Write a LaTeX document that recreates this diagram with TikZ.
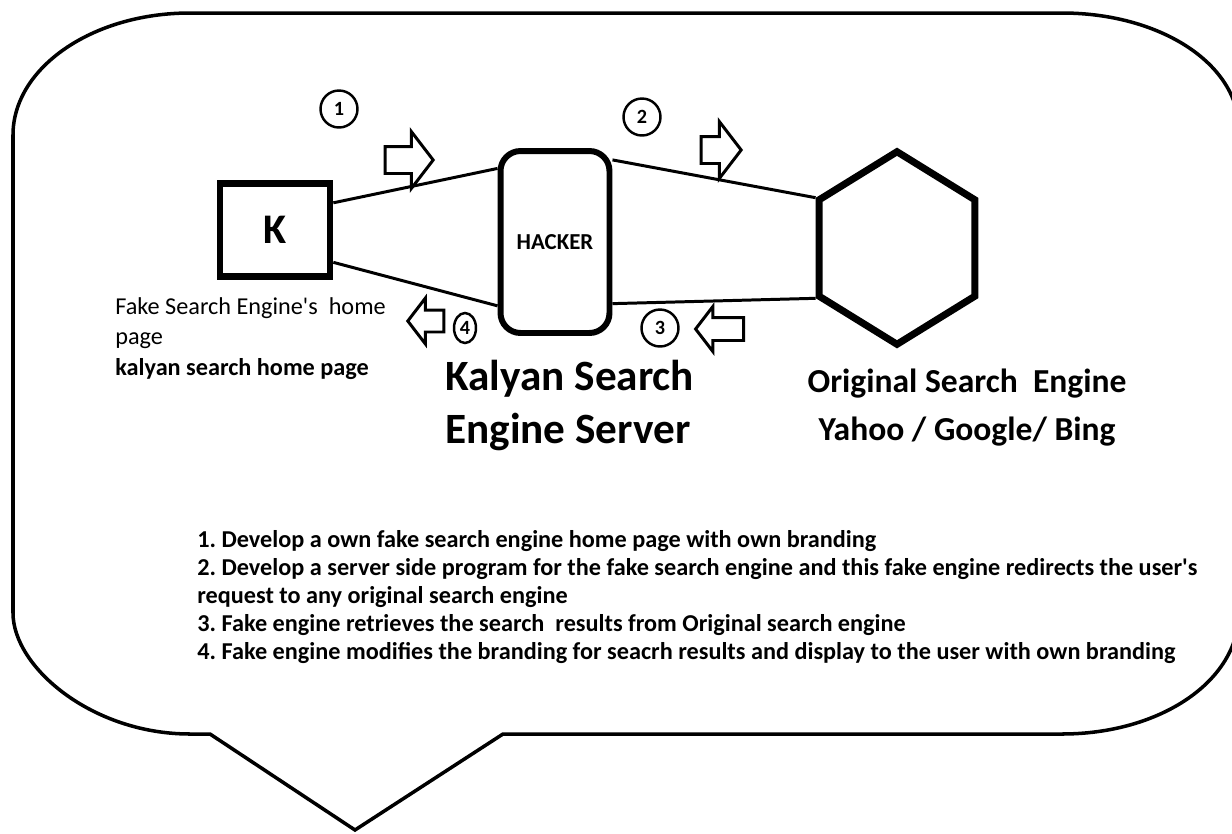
\documentclass[tikz,border=0pt]{standalone}
\usepackage{fontspec}
\setmainfont{Carlito}
\usetikzlibrary{shapes.geometric, shapes.arrows, positioning}
\frenchspacing

\begin{document}
\begin{tikzpicture}[
    x=0.02cm, y=-0.02cm,
    kbox/.style={rectangle, draw, line width=3.8pt, minimum width=2.2cm, minimum height=1.86cm,
                 font=\fontsize{24}{28}\selectfont\bfseries},
    server/.style={rectangle, rounded corners=0.4cm, draw, line width=3.4pt,
                   minimum width=2.18cm, minimum height=3.64cm, font=\fontsize{13}{15}\selectfont\bfseries},
    engine/.style={regular polygon, regular polygon sides=6, shape border rotate=30,
                   draw, line width=4pt, minimum size=3.6cm, yscale=1.07},
    link/.style={line width=1.7pt},
    num/.style={circle, draw, line width=1.4pt, minimum size=0.74cm, inner sep=0pt,
                font=\fontsize{11.5}{13}\selectfont\bfseries},
    fwd/.style={single arrow, draw, fill=white, line width=1.7pt, minimum height=0.96cm, inner sep=0.24cm,
                single arrow head extend=0.3cm, single arrow tip angle=105},
    back/.style={fwd, shape border rotate=180},
    note/.style={inner sep=0pt, align=left},
]
    \useasboundingbox (0,0) rectangle (1232,833);
    \draw[line width=2pt] (210,734) -- (190,734) .. controls (92,734) and (13,667) .. (13,613)
        -- (13,135) .. controls (13,68) and (92,13) .. (190,13)
        -- (1062,13) .. controls (1159,13) and (1239,63) .. (1239,130)
        -- (1239,612) .. controls (1239,682) and (1159,734) .. (1062,734)
        -- (503,734) -- (355,830) -- cycle;

    \node[kbox] (k) at (275,230) {K};
    \node[server] (hack) at (555,242) {HACKER};
    \node[engine] (eng) at (897,248) {};

    \draw[link] (k.25) -- (hack.128);
    \draw[link] (k.-29) -- (hack.228);
    \draw[link] (hack.55) -- (eng.150);
    \draw[link] (hack.-47) -- (eng.210);

    \node[num] (n1) at (339,109) {1};
    \node[num] (n2) at (642,117) {2};
    \node[num] (n3) at (660,328) {3};
    \node[num, ellipse, minimum width=0.44cm, minimum height=0.6cm] (n4) at (465,328) {4};

    \node[fwd] (a1) at (404,160) {};
    \node[fwd, minimum height=0.8cm] (a2) at (716,150) {};
    \node[back, inner sep=0.2cm, single arrow head extend=0.22cm] (a3) at (724,329) {};
    \node[back, minimum height=0.72cm, inner sep=0.19cm, single arrow head extend=0.24cm] (a4) at (430,321) {};

    \node[note, anchor=north west, font=\fontsize{13.8}{17}\selectfont] (fake) at (115,297)
        {Fake Search Engine\textquotesingle s~~home\\page\\[1pt]\textbf{kalyan search home page}};
    \node[note, anchor=north west, font=\fontsize{24.6}{30}\selectfont\bfseries] (srv) at (445,360)
        {Kalyan Search\\Engine Server};
    \node[note, align=center, anchor=north, font=\fontsize{19.1}{27}\selectfont\bfseries] (orig) at (967,369)
        {Original Search~~Engine\\Yahoo / Google/ Bing};
    \node[note, anchor=north west, font=\fontsize{13.8}{16}\selectfont\bfseries] (steps) at (197,530)
        {1. Develop a own fake search engine home page with own branding\\
         2. Develop a server side program for the fake search engine and this fake engine redirects the user\textquotesingle s\\
         request to any original search engine\\
         3. Fake engine retrieves the search~~results from Original search engine\\
         4. Fake engine modifies the branding for seacrh results and display to the user with own branding};
\end{tikzpicture}
\end{document}
